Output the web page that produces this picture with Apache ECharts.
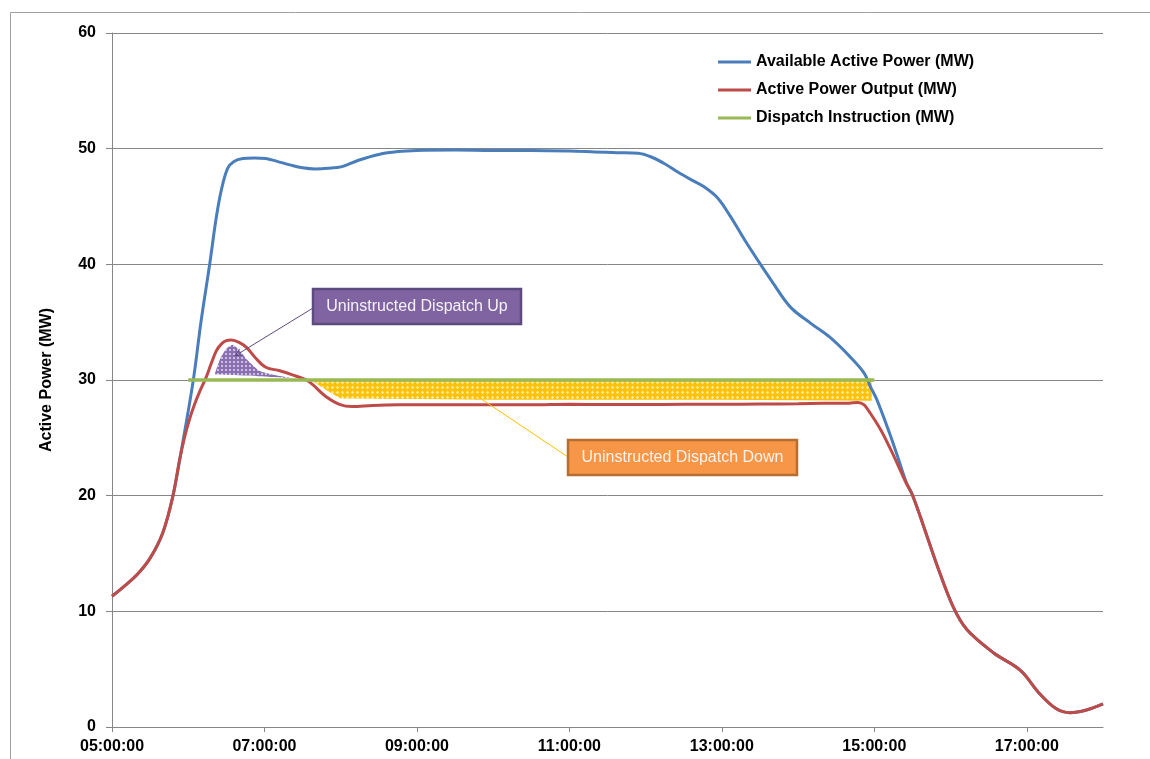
<!DOCTYPE html>
<html><head><meta charset="utf-8">
<script src="https://cdn.jsdelivr.net/npm/echarts@6/dist/echarts.min.js"></script>
<style>html,body{margin:0;padding:0;background:#fff}#c{width:1150px;height:759px}</style>
</head><body><div id="c"></div>
<script>
// ---------------- data ----------------
const seriesNames = ["Available Active Power (MW)", "Active Power Output (MW)", "Dispatch Instruction (MW)"];

const availTimes = ["05:00","05:10","05:20","05:30","05:40","05:48","05:56","06:04","06:10","06:17","06:22","06:26","06:31","06:36","06:43","06:52","07:01","07:10","07:20","07:30","07:40","07:50","08:01","08:14","08:30","08:45","09:00","09:30","10:00","10:30","11:00","11:20","11:38","11:54","12:04","12:15","12:25","12:36","12:46","12:57","13:07","13:18","13:28","13:39","13:54","14:10","14:25","14:41","14:52","14:57","15:02","15:12","15:18","15:25","15:30","15:39","15:49","16:02","16:13","16:34","16:55","17:10","17:23","17:34","17:47","18:00"];
const availValues = [11.3,12.2,13.2,14.6,16.8,20.0,24.8,30.0,35.0,40.1,44.0,46.4,48.3,48.9,49.15,49.2,49.15,48.9,48.6,48.35,48.25,48.3,48.45,49.0,49.5,49.75,49.85,49.88,49.85,49.85,49.8,49.72,49.65,49.6,49.3,48.7,48.0,47.3,46.7,45.7,44.1,42.1,40.4,38.6,36.3,34.9,33.7,32.0,30.6,29.4,28.3,25.4,23.5,21.2,20.06,17.3,14.1,10.4,8.4,6.4,4.9,2.9,1.6,1.24,1.47,2.0];

const outputTimes = ["05:00","05:10","05:20","05:30","05:40","05:48","05:53","05:57","06:01","06:05","06:09","06:14","06:18","06:22","06:26","06:30","06:34","06:40","06:46","06:53","07:01","07:12","07:22","07:33","07:38","07:48","07:59","08:09","08:25","08:46","09:30","10:00","10:30","11:00","11:30","12:00","12:30","13:00","13:30","14:00","14:20","14:40","14:47","14:52","14:57","15:05","15:12","15:18","15:25","15:30","15:39","15:49","16:02","16:13","16:34","16:55","17:10","17:23","17:34","17:47","18:00"];
const outputValues = [11.3,12.2,13.2,14.6,16.8,20.0,23.0,25.0,26.6,27.9,29.0,30.2,31.4,32.5,33.1,33.4,33.46,33.25,32.8,31.9,31.1,30.8,30.45,30.0,29.6,28.6,27.9,27.7,27.8,27.85,27.85,27.85,27.85,27.9,27.88,27.88,27.9,27.9,27.92,27.95,27.98,28.0,28.05,27.85,27.1,25.7,24.2,22.8,21.1,20.06,17.3,14.1,10.4,8.4,6.4,4.9,2.9,1.6,1.24,1.47,2.0];

const dispatchTimes = ["06:00","15:00"];
const dispatchValues = [30,30];

// Shaded annotation regions (lower / upper boundary of each hatched shape)
const upTimes = ["06:21","06:25","06:30","06:35","06:40","06:46","06:56","07:07","07:20"];
const upLower = [30.5,30.48,30.46,30.44,30.42,30.38,30.32,30.25,30.15];
const upUpper = [30.55,31.8,32.7,33.05,32.6,31.8,30.8,30.45,30.18];

const downTimes = ["07:38","07:45","07:52","08:00","09:00","10:00","11:00","12:00","13:00","14:00","14:58"];
const downLower = [29.9,29.4,28.9,28.4,28.35,28.3,28.3,28.3,28.3,28.25,28.2];
const downUpper = [29.92,29.92,29.92,29.92,29.92,29.92,29.92,29.92,29.92,29.92,29.92];

const annotationUp = "Uninstructed Dispatch Up";
const annotationDown = "Uninstructed Dispatch Down";
const yAxisName = "Active Power (MW)";

// ---------------- helpers ----------------
function toMin(t){const p=t.split(':').map(Number);return (p[0]-5)*60+p[1];}
function pairs(ts,vs){return ts.map((t,i)=>[toMin(t),vs[i]]);}
function fmt(v){const h=5+Math.round(v/60);return String(h).padStart(2,'0')+':00:00';}
function makePattern(w,h,bg,draw){const c=document.createElement('canvas');c.width=w;c.height=h;const g=c.getContext('2d');g.fillStyle=bg;g.fillRect(0,0,w,h);draw(g);return c;}

const purplePat = makePattern(4,4,'#8A6FB2',g=>{g.fillStyle='rgba(255,255,255,0.75)';g.beginPath();g.arc(2,2,1.0,0,Math.PI*2);g.fill();});
const yellowPat = makePattern(5,5,'#FFC20A',g=>{
  g.fillStyle='rgba(255,236,160,0.95)';
  g.beginPath();g.moveTo(2.5,0.8);g.lineTo(4.2,2.5);g.lineTo(2.5,4.2);g.lineTo(0.8,2.5);g.closePath();g.fill();
});

function bandSeries(times,lo,hi,pattern,smooth){
  return {
    type:'custom', silent:true, z:1,
    data: times.map((t,i)=>[toMin(t),lo[i],hi[i]]),
    encode:{x:0,y:[1,2]},
    renderItem:function(params,api){
      if(params.dataIndex!==0) return null;
      const top = times.map((t,i)=>api.coord([toMin(t),hi[i]]));
      const bot = times.map((t,i)=>api.coord([toMin(t),lo[i]])).reverse();
      return {type:'polygon',shape:{points:top.concat(bot),smooth:smooth},style:{fill:{image:pattern,repeat:'repeat'},stroke:null}};
    }
  };
}

const FONT = '"Liberation Sans", Arial, sans-serif';

const chart = echarts.init(document.getElementById('c'), null, {renderer:'canvas'});
const option = {
  animation:false,
  backgroundColor:'#fff',
  grid:{left:112,right:47,top:33,bottom:32,containLabel:false},
  legend:{
    data:seriesNames,
    orient:'vertical', left:713, top:48,
    icon:'rect',
    itemWidth:33, itemHeight:3, itemGap:10,
    textStyle:{fontFamily:FONT,fontWeight:'bold',fontSize:16,color:'#000',lineHeight:18},
    selectedMode:false
  },
  xAxis:{
    type:'value', min:0, max:780, interval:120,
    axisLine:{show:true,lineStyle:{color:'#868686',width:1}},
    axisTick:{show:true,length:5,lineStyle:{color:'#868686'}},
    splitLine:{show:false},
    axisLabel:{formatter:fmt,showMaxLabel:false,margin:12,fontFamily:FONT,fontWeight:'bold',fontSize:16,color:'#000'}
  },
  yAxis:{
    type:'value', min:0, max:60, interval:10,
    name:yAxisName, nameLocation:'middle', nameRotate:90, nameGap:57,
    nameTextStyle:{fontFamily:FONT,fontWeight:'bold',fontSize:16,color:'#000'},
    axisLine:{show:true,lineStyle:{color:'#868686',width:1}},
    axisTick:{show:true,length:6,lineStyle:{color:'#868686'}},
    splitLine:{show:true,lineStyle:{color:'#868686',width:1}},
    axisLabel:{margin:16,fontFamily:FONT,fontWeight:'bold',fontSize:16,color:'#000'}
  },
  series:[
    bandSeries(upTimes,upLower,upUpper,purplePat,0.2),
    bandSeries(downTimes,downLower,downUpper,yellowPat,0),
    {name:seriesNames[0],type:'line',data:pairs(availTimes,availValues),symbol:'none',smooth:0.35,
      itemStyle:{color:'#4A7EBB'},lineStyle:{color:'#4A7EBB',width:3},z:3},
    {name:seriesNames[1],type:'line',data:pairs(outputTimes,outputValues),symbol:'none',smooth:0.35,
      itemStyle:{color:'#BE4B48'},lineStyle:{color:'#BE4B48',width:3},z:4},
    {name:seriesNames[2],type:'line',data:pairs(dispatchTimes,dispatchValues),symbol:'none',
      itemStyle:{color:'#98B954'},lineStyle:{color:'#98B954',width:3.5},z:5}
  ]
};
chart.setOption(option);

// ---------------- annotations ----------------
function px(t,v){return chart.convertToPixel({xAxisIndex:0,yAxisIndex:0},[toMin(t),v]);}
function arrow(from,to,color){
  const dx=to[0]-from[0], dy=to[1]-from[1], a=Math.atan2(dy,dx), L=8, s=0.45;
  const p1=[to[0]-L*Math.cos(a-s), to[1]-L*Math.sin(a-s)];
  const p2=[to[0]-L*Math.cos(a+s), to[1]-L*Math.sin(a+s)];
  return [
    {type:'line',shape:{x1:from[0],y1:from[1],x2:to[0],y2:to[1]},style:{stroke:color,lineWidth:1},z:20},
    {type:'polyline',shape:{points:[p1,to,p2]},style:{stroke:color,lineWidth:1,fill:null},z:20}
  ];
}
const tipUp = px("06:37",32.1);
const tipDown = px("09:44",28.85);
const boxUp = {x:313,y:289,w:208,h:35};
const boxDown = {x:568,y:440,w:229,h:35};
const graphics = [
  {type:'rect',shape:{x:10.5,y:12.5,width:1300,height:900},style:{fill:null,stroke:'#a0a0a0',lineWidth:1},silent:true,z:0},
  ...arrow([boxUp.x, boxUp.y+19], tipUp, '#5D4A7E'),
  ...arrow([boxDown.x, boxDown.y+17], tipDown, '#FFC000'),
  {type:'rect',shape:{x:boxUp.x,y:boxUp.y,width:boxUp.w,height:boxUp.h},style:{fill:'#8064A2',stroke:'#5D4A7E',lineWidth:2.5},z:21},
  {type:'text',x:boxUp.x+boxUp.w/2,y:boxUp.y+boxUp.h/2,style:{text:annotationUp,fill:'#F4F2F8',font:'16px '+FONT,align:'center',verticalAlign:'middle'},z:22},
  {type:'rect',shape:{x:boxDown.x,y:boxDown.y,width:boxDown.w,height:boxDown.h},style:{fill:'#F79646',stroke:'#B66D31',lineWidth:2.5},z:21},
  {type:'text',x:boxDown.x+boxDown.w/2,y:boxDown.y+boxDown.h/2,style:{text:annotationDown,fill:'#FDF2EA',font:'16px '+FONT,align:'center',verticalAlign:'middle'},z:22}
];
chart.setOption({graphic:graphics});
</script>
</body></html>
